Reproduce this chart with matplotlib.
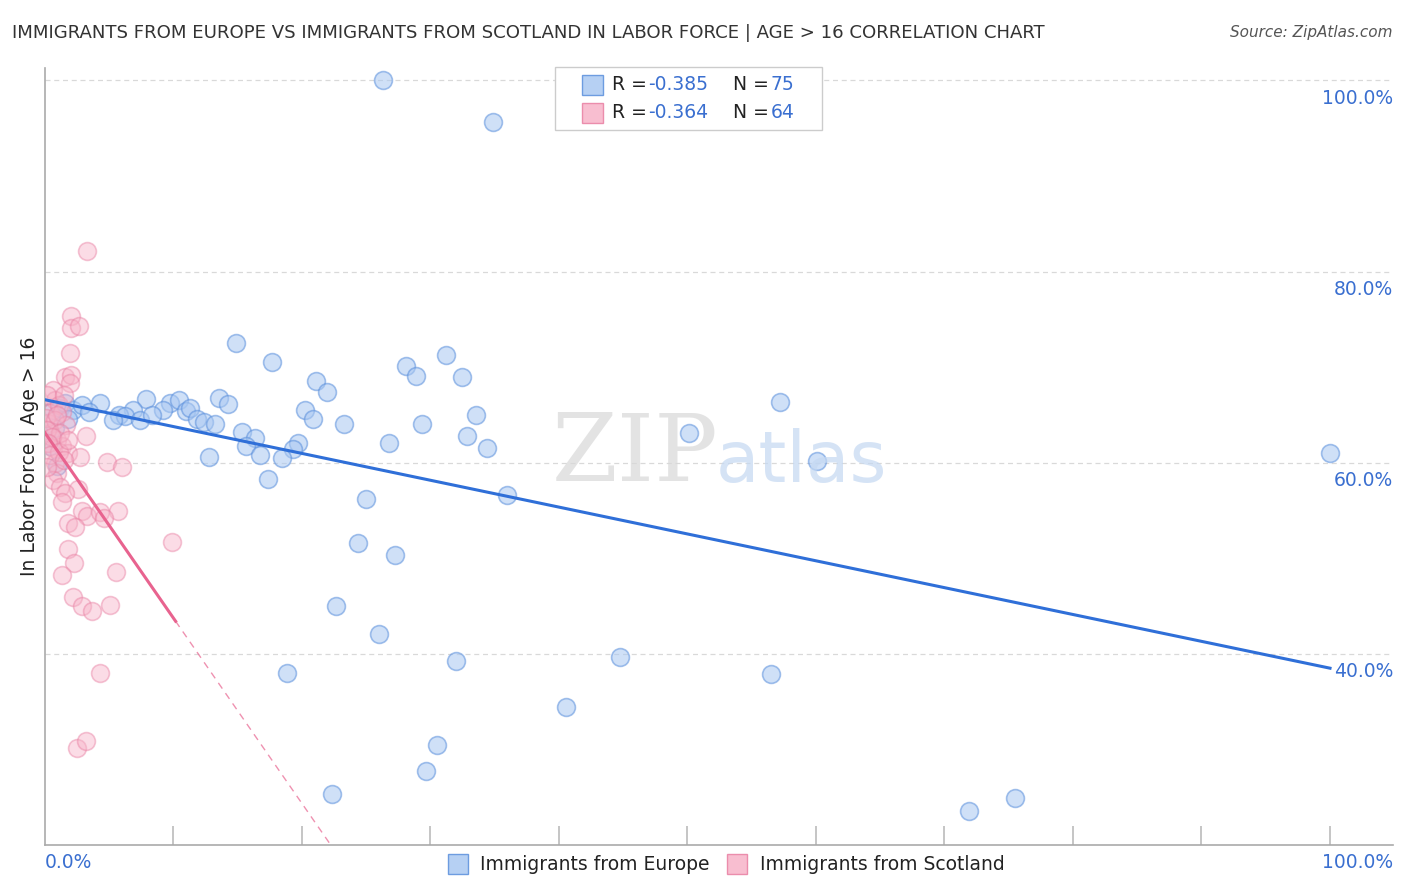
import matplotlib.pyplot as plt
from matplotlib.patches import Rectangle

# Immigrants from Europe (x = % immigrants, y = % in labor force)
europe_x = [26.3, 34.9, 14.9, 17.7, 31.2, 28.1, 28.9, 32.5, 21.1, 22.0,
            57.2, 7.9, 4.3, 9.8, 10.5, 13.6, 14.3, 9.2, 11.0, 11.3,
            20.3, 33.6, 6.9, 5.8, 6.3, 5.3, 7.4, 8.4, 11.9, 12.4,
            13.3, 20.9, 23.3, 29.4, 15.4, 16.4, 32.9, 50.1, 26.8, 19.7,
            15.7, 19.3, 34.4, 16.8, 12.8, 18.5, 60.1, 100.0, 17.4, 25.0,
            36.0, 24.4, 27.3, 22.7, 26.0, 18.9, 32.0, 44.8, 56.5, 40.6,
            30.5, 29.7, 22.4, 71.9, 75.5, 0.7, 1.2, 1.6, 2.2, 2.9,
            3.5, 0.8, 1.8, 1.0, 0.4]
europe_y = [100.0, 95.7, 72.5, 70.5, 71.3, 70.1, 69.1, 69.0, 68.5, 67.4,
            66.4, 66.7, 66.2, 66.2, 66.6, 66.8, 66.1, 65.5, 65.4, 65.7,
            65.5, 65.0, 65.5, 65.0, 64.9, 64.5, 64.5, 65.0, 64.6, 64.3,
            64.0, 64.6, 64.0, 64.0, 63.2, 62.6, 62.8, 63.1, 62.1, 62.1,
            61.7, 61.4, 61.5, 60.8, 60.6, 60.5, 60.2, 61.0, 58.3, 56.2,
            56.6, 51.6, 50.3, 45.0, 42.1, 38.0, 39.3, 39.7, 37.9, 34.4,
            30.5, 27.7, 25.3, 23.6, 24.9, 65.5, 65.7, 66.2, 65.5, 66.0,
            65.3, 63.6, 64.6, 59.7, 61.8]

# Immigrants from Scotland
scotland_x = [3.3, 2.1, 2.1, 2.7, 2.0, 1.6, 2.1, 2.0, 0.7, 0.8,
              0.4, 0.3, 0.4, 3.2, 1.0, 1.4, 0.7, 1.8, 2.8, 0.8,
              4.9, 6.0, 1.0, 0.7, 1.2, 2.6, 1.6, 1.4, 2.9, 3.3,
              4.3, 5.7, 4.6, 1.8, 2.4, 9.9, 1.8, 2.3, 1.4, 5.6,
              2.2, 2.9, 3.7, 5.1, 4.3, 2.5, 3.2, 0.2, 1.1, 1.4,
              0.1, 0.8, 1.7, 0.2, 1.2, 0.6, 0.3, 1.1, 0.4, 1.5,
              0.2, 1.5, 1.0, 1.8]
scotland_y = [82.1, 75.3, 74.1, 74.3, 71.5, 69.0, 69.2, 68.3, 67.6, 66.6,
              65.2, 64.2, 63.1, 62.8, 62.4, 61.7, 61.5, 61.0, 60.6, 60.0,
              60.1, 59.5, 58.9, 58.2, 57.5, 57.3, 56.8, 55.9, 54.9, 54.4,
              54.8, 54.9, 54.2, 53.7, 53.3, 51.7, 51.0, 49.5, 48.2, 48.6,
              45.9, 45.0, 44.5, 45.1, 38.0, 30.2, 30.9, 67.1, 66.0, 65.3,
              64.7, 64.5, 63.9, 63.4, 63.1, 62.7, 62.1, 61.1, 60.8, 60.3,
              59.5, 67.1, 65.0, 62.4]

# trend lines (intercept, slope)
europe_trend = (66.6, -0.281)
scotland_trend = (63.2, -1.94)
scotland_solid_end = 10.2
scotland_dash_end = 22.2

y_ticks = [40, 60, 80, 100]
y_tick_labels = ['40.0%', '60.0%', '80.0%', '100.0%']
x_ticks = [10, 20, 30, 40, 50, 60, 70, 80, 90, 100]

legend_r = ['-0.385', '-0.364']
legend_n = ['75', '64']
series_names = ['Immigrants from Europe', 'Immigrants from Scotland']

blue_face = '#a9c8f2'
blue_edge = '#5a8fdc'
blue_line = '#2f6fd8'
pink_face = '#f7b3c8'
pink_edge = '#e97fa2'
pink_line = '#e8638f'
label_blue = '#3a6fd0'

fig = plt.figure(figsize=(14.06, 8.92), dpi=100)
ax = fig.add_axes([44.5 / 1406, 47 / 892, 1348.5 / 1406, 777 / 892])

ax.set_xlim(0, 104.9)
ax.set_ylim(20, 101.3)

for yv in y_ticks:
    ax.axhline(yv, color='#d9d9d9', lw=0.9, ls=(0, (4, 3)), zorder=0)

ax.scatter(europe_x, europe_y, s=165, facecolor=blue_face, edgecolor=blue_edge,
           alpha=0.55, linewidths=1.2, zorder=2)
ax.scatter(scotland_x, scotland_y, s=165, facecolor=pink_face, edgecolor=pink_edge,
           alpha=0.45, linewidths=1.2, zorder=3)

b0, b1 = europe_trend
ax.plot([0, 100], [b0, b0 + b1 * 100], color=blue_line, lw=2.2, zorder=4)
p0, p1 = scotland_trend
ax.plot([0, scotland_solid_end], [p0, p0 + p1 * scotland_solid_end],
        color=pink_line, lw=2.2, zorder=4)
ax.plot([scotland_solid_end, scotland_dash_end],
        [p0 + p1 * scotland_solid_end, p0 + p1 * scotland_dash_end],
        color=pink_line, lw=1.0, ls=(0, (5, 4)), alpha=0.7, zorder=4)

for s in ['top', 'right']:
    ax.spines[s].set_visible(False)
for s in ['left', 'bottom']:
    ax.spines[s].set_color('#aaaaaa')
    ax.spines[s].set_linewidth(1.2)

ax.set_yticks([])
ax.set_xticks(x_ticks)
ax.tick_params(axis='x', direction='in', length=14, width=1.2, color='#bbbbbb',
               labelbottom=False)

for yv, lab in zip(y_ticks, y_tick_labels):
    ax.text(1.0, yv - 0.9, lab, transform=ax.get_yaxis_transform(),
            ha='right', va='top', color=label_blue, fontsize=13.5)

fig.text(45 / 1406, 1 - 863 / 892, '0.0%', ha='left', va='center',
         color=label_blue, fontsize=13.5)
fig.text(1393 / 1406, 1 - 863 / 892, '100.0%', ha='right', va='center',
         color=label_blue, fontsize=13.5)

ax.set_ylabel('In Labor Force | Age > 16', fontsize=13.5, color='#222222', labelpad=4)

fig.text(12 / 1406, 1 - 33 / 892,
         'IMMIGRANTS FROM EUROPE VS IMMIGRANTS FROM SCOTLAND IN LABOR FORCE | AGE > 16 CORRELATION CHART',
         ha='left', va='center', fontsize=13.1, color='#333333')
fig.text(1393 / 1406, 1 - 33 / 892, 'Source: ZipAtlas.com', ha='right', va='center',
         fontsize=11, color='#555555', style='italic')

# watermark
fig.text(635 / 1406, 1 - 455 / 892, 'ZIP', ha='center', va='center', fontsize=68,
         family='DejaVu Serif', color='#d8d8d8', alpha=0.7)
fig.text(802 / 1406, 1 - 462 / 892, 'atlas', ha='center', va='center', fontsize=51,
         color='#c4d8f2', alpha=0.7)

# top legend box
fig.patches.append(Rectangle((555 / 1406, 1 - 130 / 892), 267 / 1406, 63 / 892,
                             transform=fig.transFigure, facecolor='white',
                             edgecolor='#cccccc', lw=1.0, zorder=5))
rows_y = [85, 113]
faces = [(blue_face, blue_edge), (pink_face, pink_edge)]
for i in range(2):
    yc = 1 - rows_y[i] / 892
    fc, ec = faces[i]
    fig.patches.append(Rectangle((582 / 1406, yc - 10 / 892), 21 / 1406, 20 / 892,
                                 transform=fig.transFigure, facecolor=fc,
                                 edgecolor=ec, lw=1.0, zorder=6, alpha=0.85))
    fig.text(612 / 1406, yc, 'R =', ha='left', va='center', fontsize=13.5,
             color='#222222', zorder=7)
    fig.text(648 / 1406, yc, legend_r[i], ha='left', va='center', fontsize=13.5,
             color=label_blue, zorder=7)
    fig.text(733 / 1406, yc, 'N =', ha='left', va='center', fontsize=13.5,
             color='#222222', zorder=7)
    fig.text(771 / 1406, yc, legend_n[i], ha='left', va='center', fontsize=13.5,
             color=label_blue, zorder=7)

# bottom legend
leg_x = [448, 727]
leg_tx = [480, 760]
for i in range(2):
    fc, ec = faces[i]
    yc = 1 - 864 / 892
    fig.patches.append(Rectangle((leg_x[i] / 1406, yc - 10 / 892), 20 / 1406, 20 / 892,
                                 transform=fig.transFigure, facecolor=fc,
                                 edgecolor=ec, lw=1.0, alpha=0.85))
    fig.text(leg_tx[i] / 1406, yc, series_names[i], ha='left', va='center',
             fontsize=13.5, color='#222222')

fig.savefig('out.png', dpi=100)
